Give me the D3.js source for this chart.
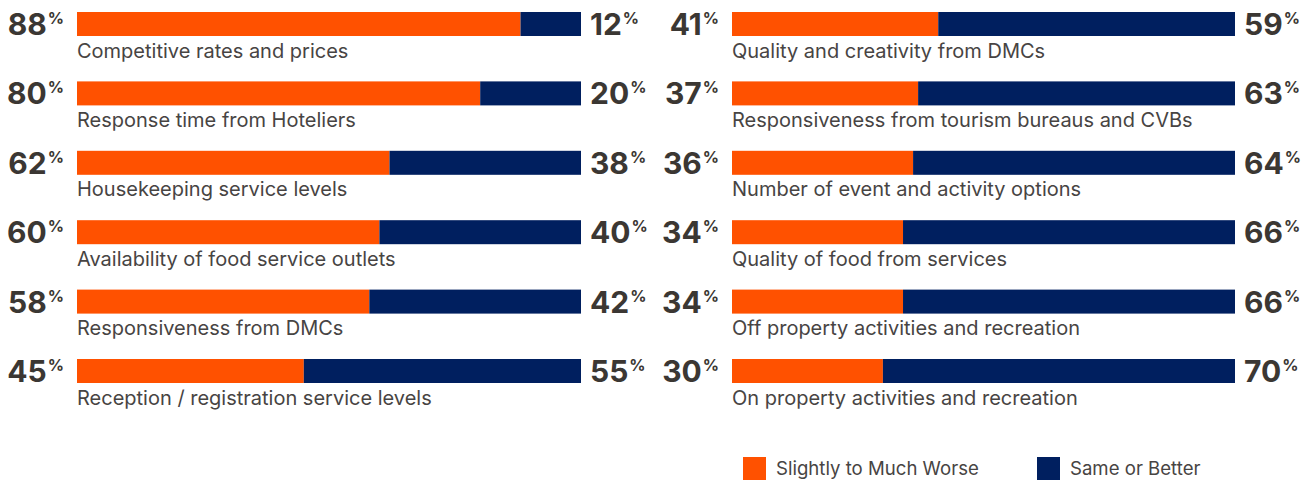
<!DOCTYPE html>
<html>
<head>
<meta charset="utf-8">
<script src="https://cdn.jsdelivr.net/npm/d3@7"></script>
<style>
  html, body { margin: 0; padding: 0; background: #fff; }
  svg { display: block; font-family: Inter, "Noto Sans", sans-serif; }
</style>
</head>
<body>
<svg id="chart" width="1314" height="480"></svg>
<script>
// Two columns of 100% stacked bars: "worse" share vs "same or better" share
const leftCategories = [
  "Competitive rates and prices",
  "Response time from Hoteliers",
  "Housekeeping service levels",
  "Availability of food service outlets",
  "Responsiveness from DMCs",
  "Reception / registration service levels"
];
const leftWorse = [88, 80, 62, 60, 58, 45];
const leftBetter = [12, 20, 38, 40, 42, 55];

const rightCategories = [
  "Quality and creativity from DMCs",
  "Responsiveness from tourism bureaus and CVBs",
  "Number of event and activity options",
  "Quality of food from services",
  "Off property activities and recreation",
  "On property activities and recreation"
];
const rightWorse = [41, 37, 36, 34, 34, 30];
const rightBetter = [59, 63, 64, 66, 66, 70];

const seriesNames = ["Slightly to Much Worse", "Same or Better"];
const colors = ["#FF5100", "#001F5F"];
const textColor = "#3b3733";
const labelColor = "#474443";

const svg = d3.select("#chart");

const barH = 24;
const step = 69.4;
const n = 6;
const pad = 1 - barH / step;
const y = d3.scaleBand()
  .domain(d3.range(n))
  .range([12, 12 + step * (n - pad)])
  .paddingInner(pad)
  .paddingOuter(0)
  .align(0);

function panel(x0, x1, cats, worse, better) {
  const x = d3.scaleLinear().domain([0, 100]).range([x0, x1]);
  const rows = cats.map((c, i) => ({ c, i, w: worse[i], b: better[i] }));
  const g = svg.append("g");
  const row = g.selectAll("g.row").data(rows).join("g").attr("class", "row")
    .attr("transform", d => `translate(0,${y(d.i)})`);

  row.append("rect")
    .attr("x", x(0)).attr("y", 0)
    .attr("width", d => x(d.w) - x(0))
    .attr("height", y.bandwidth())
    .attr("fill", colors[0]);
  row.append("rect")
    .attr("x", d => x(d.w)).attr("y", 0)
    .attr("width", d => x(d.w + d.b) - x(d.w))
    .attr("height", y.bandwidth())
    .attr("fill", colors[1]);

  // category label below the bar
  row.append("text")
    .attr("x", x(0)).attr("y", 45.5)
    .attr("font-size", 20).attr("fill", labelColor)
    .text(d => d.c);

  // left value (worse share)
  const lt = row.append("text")
    .attr("x", x(0) - 13).attr("y", 23)
    .attr("text-anchor", "end")
    .attr("fill", textColor).attr("font-weight", 700);
  lt.append("tspan").attr("font-size", 30).text(d => d.w);
  lt.append("tspan").attr("font-size", 16).attr("dy", -11).attr("dx", 1).text("%");

  // right value (same or better share)
  const rt = row.append("text")
    .attr("x", x(100) + 9).attr("y", 23)
    .attr("fill", textColor).attr("font-weight", 700);
  rt.append("tspan").attr("font-size", 30).text(d => d.b);
  rt.append("tspan").attr("font-size", 16).attr("dy", -11).attr("dx", 1).text("%");
}

panel(77, 581, leftCategories, leftWorse, leftBetter);
panel(732, 1235, rightCategories, rightWorse, rightBetter);

// legend
const legendX = [743, 1037];
const lg = svg.append("g").selectAll("g").data(seriesNames).join("g")
  .attr("transform", (d, i) => `translate(${legendX[i]},457)`);
lg.append("rect").attr("width", 23).attr("height", 23)
  .attr("fill", (d, i) => colors[i]);
lg.append("text").attr("x", 33).attr("y", 18)
  .attr("font-size", 18.6).attr("fill", labelColor)
  .text(d => d);
</script>
</body>
</html>
